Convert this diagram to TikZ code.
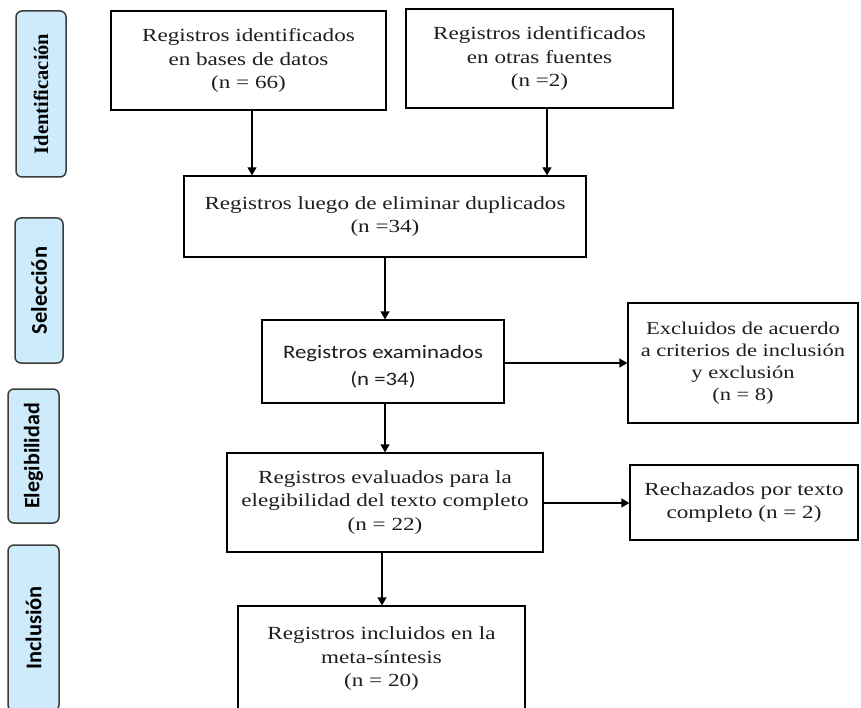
\documentclass[tikz,border=0pt]{standalone}
\usepackage{fontspec}
\setmainfont{Liberation Serif}[FakeStretch=1.25]
\newfontfamily\calibfont{Carlito}[FakeStretch=1.2]
\newfontfamily\labsansfont{Carlito}
\newfontfamily\labseriffont{Liberation Serif}
\usetikzlibrary{arrows.meta}
\definecolor{labfill}{RGB}{205,235,251}
\definecolor{labdraw}{RGB}{60,60,60}
\definecolor{txt}{RGB}{30,30,30}
\begin{document}
\begin{tikzpicture}[x=1pt,y=-1pt,
  box/.style={draw=black,line width=1.3pt,fill=white,align=center,inner sep=0pt,text=txt,
    font=\fontsize{18.5}{23.5}\selectfont},
  phase/.style={draw=labdraw,line width=1.5pt,fill=labfill,rounded corners=6pt,inner sep=0pt,
    rotate=90,text=black},
  arr/.style={line width=1.3pt,-{Triangle[width=9pt,length=8pt]}}]
\useasboundingbox (0,0) rectangle (861,708);
\clip (0,0) rectangle (861,708);
% phase labels
\node[phase,minimum width=166pt,minimum height=50pt,font=\labseriffont\bfseries\fontsize{20.5}{24}\selectfont] (L1) at (41,94) {Identificación};
\node[phase,minimum width=145pt,minimum height=48pt,font=\labsansfont\bfseries\fontsize{22.5}{24}\selectfont] (L2) at (39,290.5) {Selección};
\node[phase,minimum width=134pt,minimum height=51pt,font=\labsansfont\bfseries\fontsize{22}{24}\selectfont] (L3) at (33.5,456) {Elegibilidad};
\node[phase,minimum width=166pt,minimum height=51pt,font=\labsansfont\bfseries\fontsize{22.5}{24}\selectfont] (L4) at (33.5,628) {Inclusión};
% boxes
\node[box,minimum width=275pt,minimum height=99pt] (b1) at (248.5,60.5) {Registros identificados\\en bases de datos\\(n = 66)};
\node[box,minimum width=267pt,minimum height=99pt] (b2) at (539.5,58.5) {Registros identificados\\en otras fuentes\\(n =2)};
\node[box,minimum width=402pt,minimum height=81pt] (b3) at (385,216.5) {Registros luego de eliminar duplicados\\(n =34)};
\node[box,minimum width=242pt,minimum height=83pt,font=\calibfont\fontsize{19}{27}\selectfont] (b4) at (383,361.5) {\rule{0pt}{24pt}Registros examinados\\(n =34)};
\node[box,minimum width=230pt,minimum height=120pt,font=\fontsize{18}{22}\selectfont] (b5) at (743,363) {Excluidos de acuerdo\\a criterios de inclusión\\y exclusión\\(n = 8)};
\node[box,minimum width=316pt,minimum height=99pt] (b6) at (385,502.5) {Registros evaluados para la\\elegibilidad del texto completo\\(n = 22)};
\node[box,minimum width=228pt,minimum height=75pt] (b7) at (744,502.5) {Rechazados por texto\\completo (n = 2)};
\node[box,minimum width=287pt,minimum height=106pt] (b8) at (381.5,659) {Registros incluidos en la\\meta-síntesis\\(n = 20)};
% arrow columns
\coordinate (c1) at (252,0);
\coordinate (c2) at (547,0);
\coordinate (c3) at (385,0);
\coordinate (c4) at (382,0);
\coordinate (r1) at (0,363);
\coordinate (r2) at (0,503);
\draw[arr] (b1.south -| c1) -- (b3.north -| c1);
\draw[arr] (b2.south -| c2) -- (b3.north -| c2);
\draw[arr] (b3.south -| c3) -- (b4.north -| c3);
\draw[arr] (b4.east |- r1) -- (b5.west |- r1);
\draw[arr] (b4.south -| c3) -- (b6.north -| c3);
\draw[arr] (b6.east |- r2) -- (b7.west |- r2);
\draw[arr] (b6.south -| c4) -- (b8.north -| c4);
\end{tikzpicture}
\end{document}
